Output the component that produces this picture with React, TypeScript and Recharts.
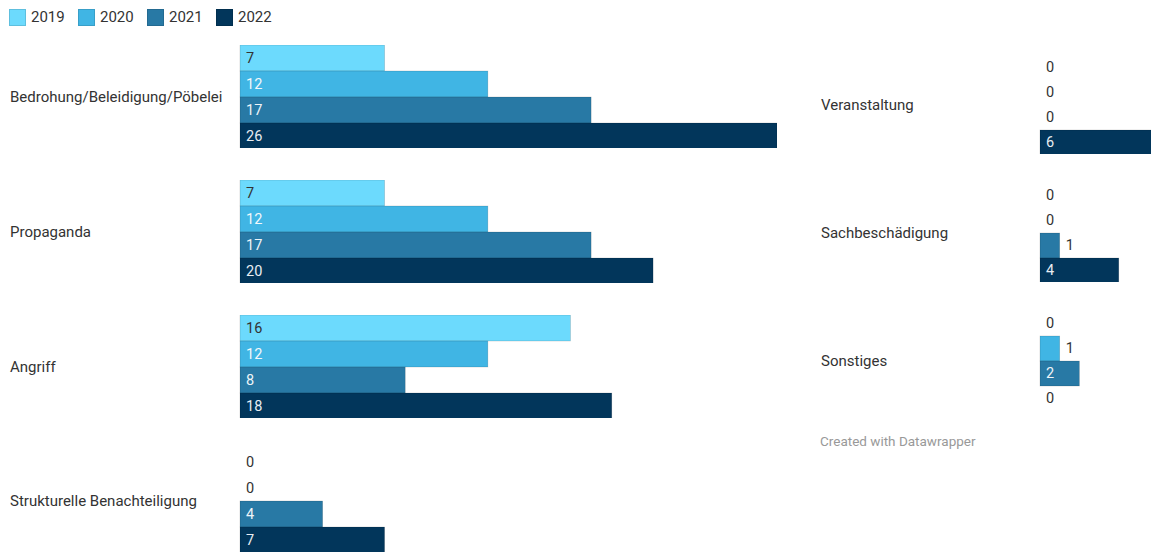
import { BarChart, Bar, XAxis, YAxis } from "recharts";

// --- Data ---
const categories = [
  "Bedrohung/Beleidigung/Pöbelei",
  "Propaganda",
  "Angriff",
  "Strukturelle Benachteiligung",
  "Veranstaltung",
  "Sachbeschädigung",
  "Sonstiges",
];
const years = ["2019", "2020", "2021", "2022"];
const values2019 = [7, 7, 16, 0, 0, 0, 0];
const values2020 = [12, 12, 12, 0, 0, 0, 1];
const values2021 = [17, 17, 8, 4, 0, 1, 2];
const values2022 = [26, 20, 18, 7, 6, 4, 0];

const colors = ["#6cdafd", "#40b5e4", "#2879a5", "#02365b"];
const insideLabelColors = ["#333333", "#f2f8fb", "#eef4f8", "#e8edf2"];
const FONT = "Roboto, 'Noto Sans', sans-serif";

// one row per panel, four year series
const panelData = categories.map((name, i) => ({
  name,
  y2019: values2019[i],
  y2020: values2020[i],
  y2021: values2021[i],
  y2022: values2022[i],
}));

// draws the bar and its value label (also for zero values)
const makeShape = (seriesIdx: number) => (props: any) => {
  const { x, y, width, height, value } = props;
  const v = Array.isArray(value) ? value[1] - value[0] : value;
  const w = Math.max(0, width || 0);
  const cy = y + height / 2;
  let tx = x + 6;
  let fill = insideLabelColors[seriesIdx];
  if (!v) {
    fill = "#333333";
  } else if (w < 28) {
    tx = x + w + 6;
    fill = "#333333";
  }
  return (
    <g>
      {w > 0 && (
        <rect x={x} y={y} width={w} height={height} fill={colors[seriesIdx]} stroke="rgba(0,0,0,0.18)" strokeWidth={0.7} />
      )}
      <text x={tx} y={cy} dominantBaseline="central" fontSize={14.5} fontFamily={FONT} fill={fill}>
        {v}
      </text>
    </g>
  );
};

const CategoryTick = ({ y, payload }: any) => (
  <text x={10} y={y} dominantBaseline="central" fontSize={15} fontFamily={FONT} fill="#333333">
    {payload.value}
  </text>
);

type PanelProps = { index: number; left: number; top: number; axisWidth: number; plotWidth: number; height: number };

const Panel = ({ index, left, top, axisWidth, plotWidth, height }: PanelProps) => (
  <div style={{ position: "absolute", left, top }}>
    <BarChart
      width={axisWidth + plotWidth}
      height={height}
      data={[panelData[index]]}
      layout="vertical"
      margin={{ top: 0, right: 0, bottom: 0, left: 0 }}
      barCategoryGap={0}
      barGap={0}
    >
      <XAxis type="number" domain={[0, 26]} hide />
      <YAxis
        type="category"
        dataKey="name"
        width={axisWidth}
        axisLine={false}
        tickLine={false}
        tick={<CategoryTick />}
      />
      {["y2019", "y2020", "y2021", "y2022"].map((key, s) => (
        <Bar
          key={key}
          dataKey={key}
          fill={colors[s]}
          isAnimationActive={false}
          shape={makeShape(s)}
        />
      ))}
    </BarChart>
  </div>
);

export default function App() {
  const leftTops = [45, 180, 315, 449];
  const rightTops = [55, 183, 311];
  return (
    <div
      style={{
        position: "absolute",
        left: 0,
        top: 0,
        width: 1151,
        height: 552,
        overflow: "hidden",
        background: "#ffffff",
        fontFamily: FONT,
      }}
    >
      {/* Legend */}
      <div style={{ position: "absolute", left: 9, top: 8, display: "flex" }}>
        {years.map((yr, i) => (
          <div key={yr} style={{ display: "flex", alignItems: "center", width: 69 }}>
            <div
              style={{
                width: 17,
                height: 17,
                background: colors[i],
                boxShadow: "inset 0 0 0 1px rgba(0,0,0,0.12)",
                marginRight: 5,
              }}
            />
            <span style={{ fontSize: 15, color: "#333333" }}>{yr}</span>
          </div>
        ))}
      </div>

      {leftTops.map((t, i) => (
        <Panel key={i} index={i} left={0} top={t} axisWidth={240} plotWidth={537} height={103} />
      ))}
      {rightTops.map((t, i) => (
        <Panel key={i + 4} index={i + 4} left={811} top={t} axisWidth={229} plotWidth={512} height={99} />
      ))}

      <div style={{ position: "absolute", left: 820, top: 433, fontSize: 13.5, color: "#999999" }}>
        Created with Datawrapper
      </div>
    </div>
  );
}
